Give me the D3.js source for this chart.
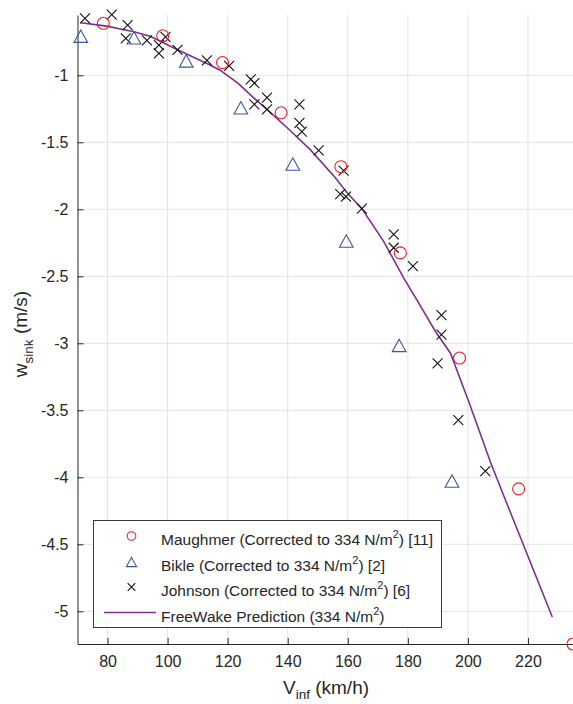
<!DOCTYPE html>
<html>
<head>
<meta charset="utf-8">
<script src="https://cdn.jsdelivr.net/npm/d3@7"></script>
<style>
  body { margin: 0; background: #fff; }
  svg text { font-family: "Liberation Sans", Arial, Helvetica, sans-serif; fill: #262626; }
</style>
</head>
<body>
<svg id="chart" width="573" height="704"></svg>
<script>
// tick values
var xTicks = [80, 100, 120, 140, 160, 180, 200, 220]
var yTicks = [-1, -1.5, -2, -2.5, -3, -3.5, -4, -4.5, -5]

// Maughmer (corrected to 334 N/m^2) [11]
var maughmerV = [78.6, 98.4, 118.3, 137.8, 157.7, 177.5, 197.2, 216.9, 235]
var maughmerW = [-0.612, -0.705, -0.905, -1.28, -1.682, -2.325, -3.11, -4.086, -5.244]

// Bikle (corrected to 334 N/m^2) [2]
var bikleV = [71.1, 88.8, 106.2, 124.4, 141.7, 159.5, 177.1, 194.7]
var bikleW = [-0.708, -0.72, -0.893, -1.242, -1.662, -2.237, -3.016, -4.028]

// Johnson (corrected to 334 N/m^2) [6]
var johnsonV = [72.5, 81.4, 86.7, 86.1, 93.1, 99.3, 97.1, 97.1, 103.3, 113.1, 120.5,
  127.7, 128.9, 128.9, 133.1, 133.1, 143.9, 143.9, 144.7, 150.3, 158.6, 157.5, 159.4,
  164.7, 175.3, 175.3, 181.7, 191.2, 191.2, 189.9, 196.8, 205.8]
var johnsonW = [-0.575, -0.548, -0.625, -0.725, -0.74, -0.713, -0.775, -0.837, -0.81, -0.888, -0.93,
  -1.03, -1.058, -1.217, -1.167, -1.255, -1.217, -1.355, -1.42, -1.56, -1.712, -1.887, -1.905,
  -1.995, -2.187, -2.287, -2.424, -2.79, -2.936, -3.149, -3.574, -3.954]

// FreeWake prediction (334 N/m^2)
var freewakeV = [71.1, 79.7, 88.8, 94.2, 103.3, 113.1, 117.5, 123.5, 128.5, 133.1, 140.8, 147.5,
  155.8, 159.7, 164.7, 171.9, 178.6, 183.3, 189.2, 194.2, 200.3, 207.5, 212.8, 228.1]
var freewakeW = [-0.608, -0.633, -0.675, -0.708, -0.81, -0.912, -0.962, -1.06, -1.165, -1.255, -1.412, -1.555,
  -1.762, -1.875, -1.995, -2.237, -2.512, -2.687, -2.912, -3.074, -3.436, -3.886, -4.186, -5.043]

var legendLabels = [
  ['Maughmer (Corrected to 334 N/m', '2', ') [11]'],
  ['Bikle (Corrected to 334 N/m', '2', ') [2]'],
  ['Johnson (Corrected to 334 N/m', '2', ') [6]'],
  ['FreeWake Prediction (334 N/m', '2', ')']
]

function zip(a, b) { return a.map(function (v, i) { return [v, b[i]] }) }

var svg = d3.select('#chart')
var axisColor = '#262626'

var x = d3.scaleLinear().domain([70, 235]).range([77.5, 573])
var y = d3.scaleLinear().domain([-5.244, -0.55]).range([644, 15])

// grid
var grid = svg.append('g').attr('class', 'grid')
grid.selectAll('line.gx').data(xTicks).enter().append('line')
  .attr('x1', function (d) { return x(d) }).attr('x2', function (d) { return x(d) })
  .attr('y1', y.range()[0]).attr('y2', y.range()[1])
  .attr('stroke', '#e3e3e3').attr('stroke-width', 1)
grid.selectAll('line.gy').data(yTicks).enter().append('line')
  .attr('y1', function (d) { return y(d) }).attr('y2', function (d) { return y(d) })
  .attr('x1', x.range()[0]).attr('x2', x.range()[1])
  .attr('stroke', '#e3e3e3').attr('stroke-width', 1)

// axes (ticks pointing inward)
var fmt = function (d) { return String(d) }
var gx = svg.append('g').attr('transform', 'translate(0,644)')
  .call(d3.axisBottom(x).tickValues(xTicks).tickFormat(fmt).tickSizeInner(-6).tickSizeOuter(0).tickPadding(12))
var gy = svg.append('g').attr('transform', 'translate(77.5,0)')
  .call(d3.axisLeft(y).tickValues(yTicks).tickFormat(fmt).tickSizeInner(-6).tickSizeOuter(0).tickPadding(9))
;[gx, gy].forEach(function (g) {
  g.select('.domain').attr('stroke', axisColor)
  g.selectAll('.tick line').attr('stroke', axisColor)
  g.selectAll('.tick text').attr('fill', axisColor).style('font-size', '16px')
    .style('font-family', '"Liberation Sans", Arial, Helvetica, sans-serif')
})

// axis labels
var xl = svg.append('text').attr('x', 326).attr('y', 694).attr('text-anchor', 'middle')
  .style('font-size', '19px')
xl.append('tspan').text('V')
xl.append('tspan').attr('dy', 5).style('font-size', '13.5px').text('inf')
xl.append('tspan').attr('dy', -5).text(' (km/h)')

var yl = svg.append('text').attr('transform', 'translate(27,334) rotate(-90)')
  .attr('text-anchor', 'middle').style('font-size', '19px')
yl.append('tspan').text('w')
yl.append('tspan').attr('dy', 6).style('font-size', '13.5px').text('sink')
yl.append('tspan').attr('dy', -6).text(' (m/s)')

// marker shapes
function trianglePath(h) { return 'M0,' + (-h) + 'L' + (h * 1.1) + ',' + h + 'L' + (-h * 1.1) + ',' + h + 'Z' }
function crossPath(s) { return 'M' + (-s) + ',' + (-s) + 'L' + s + ',' + s + 'M' + (-s) + ',' + s + 'L' + s + ',' + (-s) }

// FreeWake line
svg.append('path').datum(zip(freewakeV, freewakeW))
  .attr('d', d3.line().x(function (d) { return x(d[0]) }).y(function (d) { return y(d[1]) }))
  .attr('fill', 'none').attr('stroke', '#7e2f8e').attr('stroke-width', 1.6)

// Johnson crosses
svg.append('g').selectAll('path').data(zip(johnsonV, johnsonW)).enter().append('path')
  .attr('transform', function (d) { return 'translate(' + x(d[0]) + ',' + y(d[1]) + ')' })
  .attr('d', crossPath(5)).attr('stroke', '#111').attr('stroke-width', 1.1).attr('fill', 'none')

// Bikle triangles
svg.append('g').selectAll('path').data(zip(bikleV, bikleW)).enter().append('path')
  .attr('transform', function (d) { return 'translate(' + x(d[0]) + ',' + y(d[1]) + ')' })
  .attr('d', trianglePath(6.2)).attr('stroke', '#3a55a8').attr('stroke-width', 1.1).attr('fill', 'none')

// Maughmer circles
svg.append('g').selectAll('circle').data(zip(maughmerV, maughmerW)).enter().append('circle')
  .attr('cx', function (d) { return x(d[0]) }).attr('cy', function (d) { return y(d[1]) })
  .attr('r', 6).attr('stroke', '#f01e1e').attr('stroke-width', 1.1).attr('fill', 'none')

// legend
var legend = svg.append('g')
legend.append('rect').attr('x', 93.5).attr('y', 520.5).attr('width', 348).attr('height', 107)
  .attr('fill', '#fff').attr('stroke', '#3a3a3a').attr('stroke-width', 1)
var rowY = [536, 562, 587, 612.5]
legend.append('circle').attr('cx', 131.5).attr('cy', rowY[0]).attr('r', 4.3)
  .attr('fill', 'none').attr('stroke', '#f01e1e').attr('stroke-width', 1.1)
legend.append('path').attr('transform', 'translate(131.5,' + rowY[1] + ')').attr('d', trianglePath(4.6))
  .attr('fill', 'none').attr('stroke', '#3a55a8').attr('stroke-width', 1.1)
legend.append('path').attr('transform', 'translate(131.5,' + rowY[2] + ')').attr('d', crossPath(3.8))
  .attr('fill', 'none').attr('stroke', '#111').attr('stroke-width', 1.1)
legend.append('line').attr('x1', 104).attr('x2', 156).attr('y1', rowY[3]).attr('y2', rowY[3])
  .attr('stroke', '#7e2f8e').attr('stroke-width', 1.6)

legendLabels.forEach(function (parts, i) {
  var t = legend.append('text').attr('x', 161).attr('y', rowY[i] + 9).style('font-size', '15.5px')
  t.append('tspan').text(parts[0])
  t.append('tspan').attr('dy', -7).style('font-size', '11px').text(parts[1])
  t.append('tspan').attr('dy', 7).text(parts[2])
})
</script>
</body>
</html>
